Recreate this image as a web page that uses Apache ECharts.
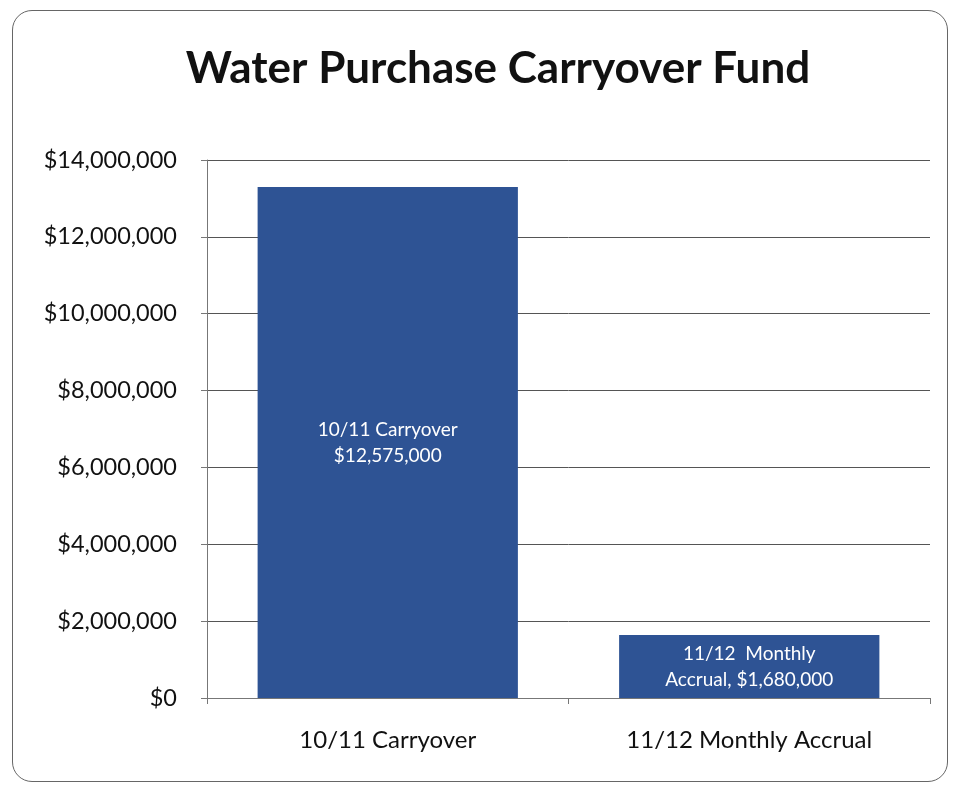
<!DOCTYPE html>
<html>
<head>
<meta charset="utf-8">
<script src="https://cdn.jsdelivr.net/npm/echarts@6/dist/echarts.min.js"></script>
<style>
	html, body { margin: 0; padding: 0; background: #fff; }
	#frame {
		position: absolute; left: 12px; top: 10px; width: 936px; height: 772px;
		border: 1.5px solid #666; border-radius: 20px; box-sizing: border-box;
	}
	#chart { position: absolute; left: 0; top: 0; width: 955px; height: 791px; }
</style>
</head>
<body>
<div id="frame"></div>
<div id="chart"></div>
<script>
// 数据
const categories = ["10/11 Carryover", "11/12 Monthly Accrual"];
const barValues = [13300000, 1640000]; // 柱高
const labelTexts = ["10/11 Carryover\n$12,575,000", "11/12  Monthly\nAccrual, $1,680,000"];
const yTicks = [0, 2000000, 4000000, 6000000, 8000000, 10000000, 12000000, 14000000];

const chart = echarts.init(document.getElementById("chart"));

const option = {
	animation: false,
	title: {
		text: "Water Purchase Carryover Fund",
		left: 493,
		top: 42,
		textAlign: "center",
		textStyle: { fontFamily: "Lato", fontSize: 44, fontWeight: "bold", color: "#111" },
	},
	grid: { left: 207, right: 25, top: 160, bottom: 93 },
	xAxis: {
		type: "category",
		data: categories,
		axisLine: { lineStyle: { color: "#777" } },
		axisTick: { show: true, length: 6, lineStyle: { color: "#777" } },
		axisLabel: { fontFamily: "Lato", fontSize: 24, color: "#111", margin: 30 },
	},
	yAxis: {
		type: "value",
		min: yTicks[0],
		max: yTicks[yTicks.length - 1],
		interval: 2000000,
		axisLine: { show: true, lineStyle: { color: "#777" } },
		axisTick: { show: true, length: 6, lineStyle: { color: "#777" } },
		splitLine: { lineStyle: { color: "#555", width: 1 } },
		axisLabel: {
			fontFamily: "Lato", fontSize: 23.5, color: "#111", margin: 30,
			formatter: (v) => "$" + v.toLocaleString("en-US"),
		},
	},
	series: [
		{
			type: "bar",
			data: barValues,
			barWidth: "72%",
			itemStyle: { color: "#2e5394" },
			label: {
				show: true,
				position: "inside",
				fontFamily: "Lato",
				fontSize: 19,
				lineHeight: 26,
				color: "#fff",
				formatter: (p) => labelTexts[p.dataIndex],
			},
		},
	],
};

chart.setOption(option);
</script>
</body>
</html>
